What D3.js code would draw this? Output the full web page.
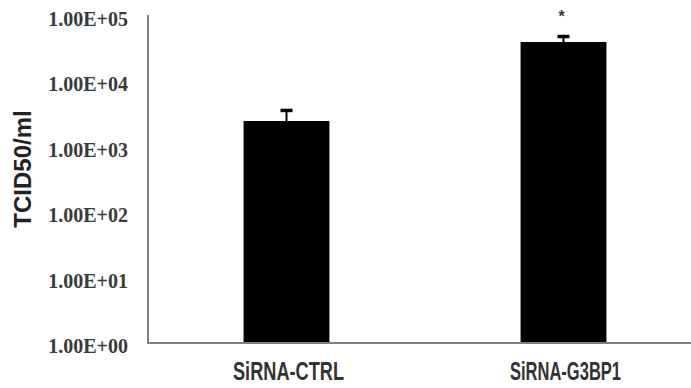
<!DOCTYPE html>
<html>
<head>
<meta charset="utf-8">
<script src="https://cdn.jsdelivr.net/npm/d3@7"></script>
<style>
  body { margin: 0; background: #fff; }
  svg { display: block; }
</style>
</head>
<body>
<div id="chart"></div>
<script>
const categories = ["SiRNA-CTRL", "SiRNA-G3BP1"];
const means = [2480, 40000];
const errTops = [3790, 51200];
const marks = ["", "*"];
const tickValues = [1, 10, 100, 1000, 10000, 100000];
const tickLabels = ["1.00E+00", "1.00E+01", "1.00E+02", "1.00E+03", "1.00E+04", "1.00E+05"];

const width = 691, height = 388;
const axisX = 148, axisBottom = 343, axisTop = 16, axisRight = 702;

const svg = d3.select("#chart").append("svg")
  .attr("width", width)
  .attr("height", height);

const x = d3.scaleBand()
  .domain(categories)
  .range([axisX, axisRight])
  .paddingInner(0.69)
  .paddingOuter(0.345);

const y = d3.scaleLog()
  .domain([1, 100000])
  .range([axisBottom, axisTop]);

// bars
svg.selectAll(".bar")
  .data(categories)
  .enter()
  .append("rect")
  .attr("class", "bar")
  .attr("x", (d) => x(d))
  .attr("y", (d, i) => y(means[i]))
  .attr("width", x.bandwidth())
  .attr("height", (d, i) => axisBottom - y(means[i]))
  .attr("fill", "#000");

// error bars
const cx = (d) => x(d) + x.bandwidth() / 2;
svg.selectAll(".err")
  .data(categories)
  .enter()
  .append("line")
  .attr("x1", cx).attr("x2", cx)
  .attr("y1", (d, i) => y(means[i]))
  .attr("y2", (d, i) => y(errTops[i]))
  .attr("stroke", "#000")
  .attr("stroke-width", 2);
svg.selectAll(".cap")
  .data(categories)
  .enter()
  .append("line")
  .attr("x1", (d) => cx(d) - 6).attr("x2", (d) => cx(d) + 6)
  .attr("y1", (d, i) => y(errTops[i]) + 1.5)
  .attr("y2", (d, i) => y(errTops[i]) + 1.5)
  .attr("stroke", "#000")
  .attr("stroke-width", 3.5);

// significance mark
svg.selectAll(".mark")
  .data(categories)
  .enter()
  .append("text")
  .attr("x", (d) => cx(d) - 2)
  .attr("y", (d, i) => y(errTops[i]) - 13)
  .attr("text-anchor", "middle")
  .style("font-family", "Liberation Sans, Arial, sans-serif")
  .style("font-size", "16px")
  .style("font-weight", "bold")
  .attr("fill", "#333")
  .text((d, i) => marks[i]);

// y axis
const yAxis = svg.append("g")
  .attr("transform", "translate(" + axisX + ",0)")
  .call(d3.axisLeft(y).tickValues(tickValues).tickSize(0).tickPadding(20)
    .tickFormat((d, i) => tickLabels[i]));
yAxis.select(".domain").remove();
yAxis.selectAll("text")
  .attr("dy", "0.47em")
  .style("font-family", "Liberation Serif, Times New Roman, serif")
  .style("font-size", "20px")
  .style("font-weight", "bold")
  .attr("fill", "#3a3a3a");

svg.append("path")
  .attr("d", "M" + axisX + "," + (axisTop - 1) + "V" + axisBottom + "H" + axisRight)
  .attr("fill", "none")
  .attr("stroke", "#808080")
  .attr("stroke-width", 2);

// x labels
svg.selectAll(".xlabel")
  .data(categories)
  .enter()
  .append("text")
  .attr("x", (d) => cx(d) + 2)
  .attr("y", 380)
  .attr("text-anchor", "middle")
  .attr("textLength", 111)
  .attr("lengthAdjust", "spacingAndGlyphs")
  .style("font-family", "Liberation Sans, Arial, sans-serif")
  .style("font-size", "25px")
  .style("font-weight", "bold")
  .attr("fill", "#333")
  .text((d) => d);

// y title
svg.append("text")
  .attr("transform", "translate(31,169) rotate(-90)")
  .attr("text-anchor", "middle")
  .style("font-family", "Liberation Sans, Arial, sans-serif")
  .style("font-size", "24px")
  .style("font-weight", "bold")
  .attr("fill", "#222")
  .text("TCID50/ml");
</script>
</body>
</html>
